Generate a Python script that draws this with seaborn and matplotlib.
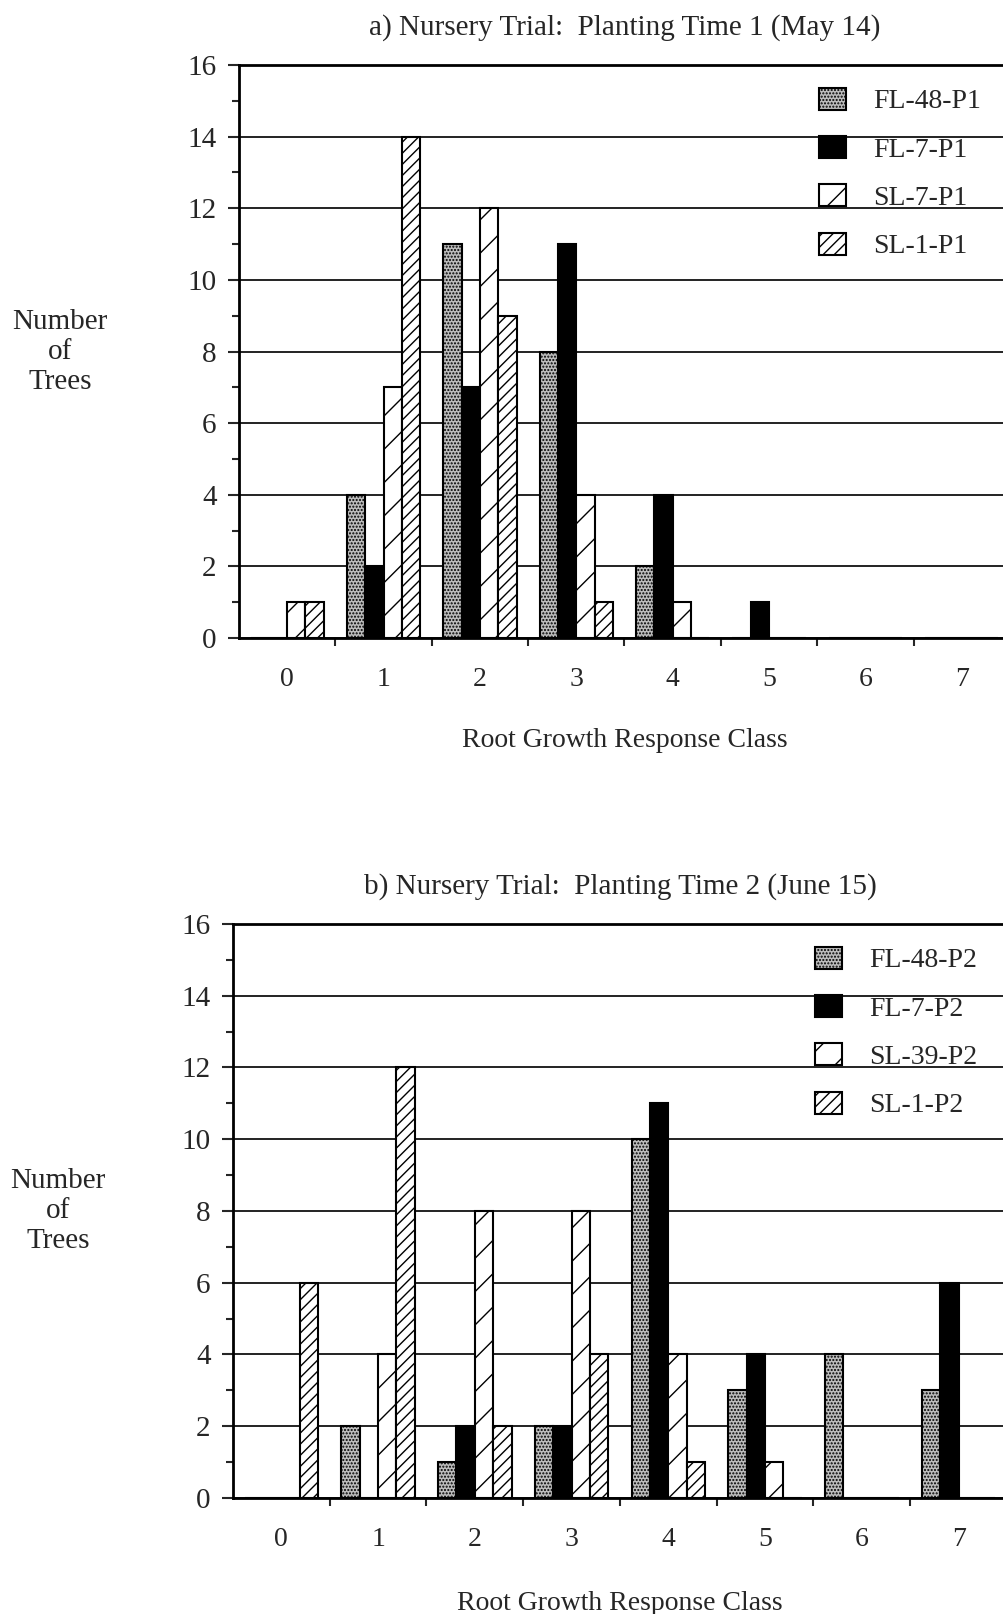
import matplotlib
matplotlib.use("Agg")
import pandas as pd
import matplotlib.pyplot as plt
import matplotlib.patches as mpatches
from matplotlib.ticker import MultipleLocator, FixedLocator
import seaborn as sns

# classes de resposta
classes = [0, 1, 2, 3, 4, 5, 6, 7]

# a) Planting Time 1
p1_labels = ['FL-48-P1', 'FL-7-P1', 'SL-7-P1', 'SL-1-P1']
p1_fl48 = [0, 4, 11, 8, 2, 0, 0, 0]
p1_fl7 = [0, 2, 7, 11, 4, 1, 0, 0]
p1_sl7 = [1, 7, 12, 4, 1, 0, 0, 0]
p1_sl1 = [1, 14, 9, 1, 0, 0, 0, 0]

# b) Planting Time 2
p2_labels = ['FL-48-P2', 'FL-7-P2', 'SL-39-P2', 'SL-1-P2']
p2_fl48 = [0, 2, 1, 2, 10, 3, 4, 3]
p2_fl7 = [0, 0, 2, 2, 11, 4, 0, 6]
p2_sl39 = [0, 4, 8, 8, 4, 1, 0, 0]
p2_sl1 = [6, 12, 2, 4, 1, 0, 0, 0]

sns.set_style('ticks')
plt.rcParams['font.family'] = ['Liberation Serif', 'DejaVu Serif']
plt.rcParams['hatch.linewidth'] = 1.0

# estilo de cada serie: (cor, hachura)
estilos = [('#bdbdbd', '.....'), ('black', None), ('white', '/'), ('white', '///')]


def painel(ax, labels, series, titulo, ylab_x, xlab_pad):
    df = pd.DataFrame({
        'Classe': classes * len(series),
        'Valor': [v for s in series for v in s],
        'Serie': [lab for lab, s in zip(labels, series) for _ in s],
    })
    pal = {lab: est[0] for lab, est in zip(labels, estilos)}
    sns.barplot(data=df, x='Classe', y='Valor', hue='Serie', order=classes,
                hue_order=labels, palette=pal, width=0.76, saturation=1,
                edgecolor='black', linewidth=1.5, legend=False, ax=ax)
    for cont, (cor, hatch) in zip(ax.containers, estilos):
        for p in cont:
            p.set_hatch(hatch)
            p.set_edgecolor('black')
            p.set_zorder(3)

    ax.set_xlim(-0.5, 7.5)
    ax.set_ylim(0, 16)
    ax.yaxis.set_major_locator(MultipleLocator(2))
    ax.yaxis.set_minor_locator(MultipleLocator(1))
    ax.xaxis.set_major_locator(FixedLocator(classes))
    ax.xaxis.set_minor_locator(FixedLocator([c + 0.5 for c in classes]))
    ax.set_xticklabels([str(c) for c in classes])
    ax.tick_params(axis='x', which='major', length=0, labelsize=20, pad=21)
    ax.tick_params(axis='x', which='minor', length=6, width=1.5, direction='out')
    ax.tick_params(axis='y', which='major', length=8, width=1.5, labelsize=21, pad=8)
    ax.tick_params(axis='y', which='minor', length=5, width=1.5)

    ax.set_axisbelow(True)
    ax.grid(axis='y', which='major', color='#222222', linewidth=1.4, linestyle='-')
    ax.grid(axis='x', visible=False)
    for lado in ['left', 'top', 'bottom', 'right']:
        ax.spines[lado].set_linewidth(2)
        ax.spines[lado].set_color('black')

    ax.set_title(titulo, fontsize=21, pad=22)
    ax.set_xlabel('Root Growth Response Class', fontsize=20, labelpad=xlab_pad)
    ax.set_ylabel('Number\nof\nTrees', fontsize=21, rotation=0, ha='center',
                  va='center', labelpad=0)
    ax.yaxis.set_label_coords(ylab_x, 0.5)

    handles = [mpatches.Patch(facecolor=c, edgecolor='black', hatch=h, linewidth=1.5)
               for c, h in estilos]
    ax.legend(handles, labels, loc='upper left', bbox_to_anchor=(0.738, 0.98),
              frameon=False, fontsize=20, handlelength=0.95, handleheight=0.85,
              labelspacing=0.78, handletextpad=1.0, borderaxespad=0)


fig = plt.figure(figsize=(10.04, 16.14), dpi=100)
ax1 = fig.add_axes([0.238, 0.6047, 0.768, 0.355])
ax2 = fig.add_axes([0.232, 0.0719, 0.771, 0.3556])

painel(ax1, p1_labels, [p1_fl48, p1_fl7, p1_sl7, p1_sl1],
       'a) Nursery Trial:  Planting Time 1 (May 14)', -0.232, 26)
painel(ax2, p2_labels, [p2_fl48, p2_fl7, p2_sl39, p2_sl1],
       'b) Nursery Trial:  Planting Time 2 (June 15)', -0.226, 28)

fig.savefig('out.png', dpi=100)
